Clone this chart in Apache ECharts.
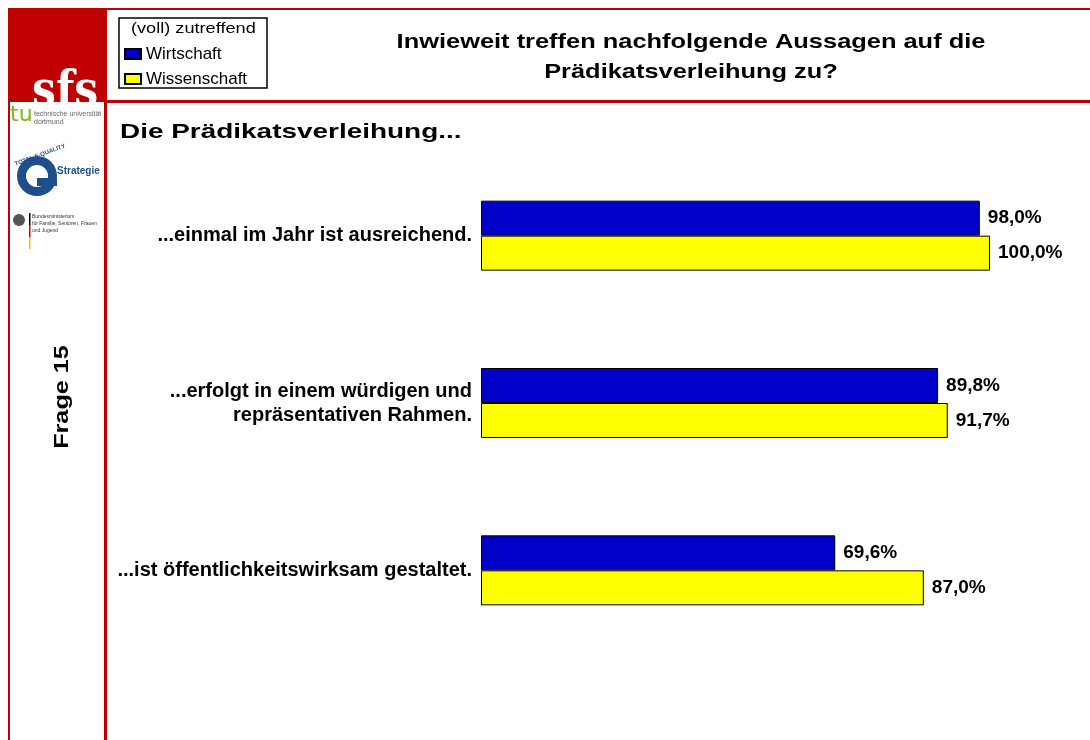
<!DOCTYPE html>
<html>
<head>
<meta charset="utf-8">
<script src="https://cdn.jsdelivr.net/npm/echarts@6/dist/echarts.min.js"></script>
<style>
  html, body { margin: 0; padding: 0; background: #fff; }
  #main { width: 1090px; height: 740px; }
</style>
</head>
<body>
<div id="main"></div>
<script>
// Daten
var categories = [
  '...einmal im Jahr ist ausreichend.',
  '...erfolgt in einem würdigen und\nrepräsentativen Rahmen.',
  '...ist öffentlichkeitswirksam gestaltet.'
];
var wirtschaft = [98.0, 89.8, 69.6];
var wissenschaft = [100.0, 91.7, 87.0];

var FONT = '"Liberation Sans", Arial, sans-serif';
var RED = '#c00000';

function pct(p) {
  return p.value.toFixed(1).replace('.', ',') + '%';
}

var chart = echarts.init(document.getElementById('main'));

chart.setOption({
  animation: false,
  textStyle: { fontFamily: FONT },
  grid: { left: 481, right: 100, top: 152, bottom: 86, containLabel: false },
  xAxis: { type: 'value', min: 0, max: 100, show: false },
  yAxis: {
    type: 'category',
    data: categories,
    inverse: true,
    axisLine: { show: false },
    axisTick: { show: false },
    axisLabel: {
      margin: 9,
      color: '#000',
      fontSize: 20,
      fontWeight: 'bold',
      fontFamily: FONT,
      align: 'right',
      lineHeight: 24
    }
  },
  legend: {
    orient: 'vertical',
    left: 119,
    top: 40,
    itemWidth: 16,
    itemHeight: 10,
    itemGap: 7,
    icon: 'rect',
    textStyle: { fontSize: 17, lineHeight: 18, color: '#000', fontFamily: FONT },
    data: ['Wirtschaft', 'Wissenschaft']
  },
  series: [
    {
      name: 'Wirtschaft',
      type: 'bar',
      data: wirtschaft,
      barWidth: 35,
      barGap: '0%',
      itemStyle: { color: '#0000c8', borderColor: '#000', borderWidth: 1 },
      label: { show: true, position: 'right', distance: 8, formatter: pct,
        color: '#000', fontSize: 19, fontWeight: 'bold', fontFamily: FONT }
    },
    {
      name: 'Wissenschaft',
      type: 'bar',
      data: wissenschaft,
      barWidth: 35,
      barGap: '0%',
      itemStyle: { color: '#ffff00', borderColor: '#000', borderWidth: 1 },
      label: { show: true, position: 'right', distance: 8, formatter: pct,
        color: '#000', fontSize: 19, fontWeight: 'bold', fontFamily: FONT }
    }
  ],
  graphic: [
    // Rahmen
    { type: 'rect', shape: { x: 8, y: 8, width: 1082, height: 2 }, style: { fill: RED } },
    { type: 'rect', shape: { x: 8, y: 8, width: 99, height: 94 }, style: { fill: RED } },
    { type: 'text', x: 32, y: 68, scaleX: 0.85, style: { text: 'sfs', fill: '#fff',
        font: 'bold 50px "DejaVu Serif", serif', verticalAlign: 'top' } },
    { type: 'rect', shape: { x: 10, y: 102, width: 94, height: 14 }, style: { fill: '#fff' } },
    { type: 'rect', shape: { x: 8, y: 100, width: 2, height: 640 }, style: { fill: RED } },
    { type: 'rect', shape: { x: 104, y: 100, width: 3, height: 640 }, style: { fill: RED } },
    { type: 'rect', shape: { x: 104, y: 100, width: 986, height: 3 }, style: { fill: RED } },

    // Logos
    { type: 'text', left: 10, top: 104, style: { text: 'tu', fill: '#84b818',
        font: '22px "DejaVu Sans", sans-serif' } },
    { type: 'text', left: 34, top: 110, style: { text: 'technische universität\ndortmund', fill: '#666',
        font: '7px "Liberation Sans", sans-serif', lineHeight: 8 } },
    { type: 'text', left: 14, top: 143, rotation: 0.35, style: { text: 'TOTAL E-QUALITY', fill: '#1f4e8c',
        font: 'bold 6px "Liberation Sans", sans-serif' } },
    { type: 'ring', shape: { cx: 37, cy: 176, r: 20, r0: 11 }, style: { fill: '#1f4e8c' } },
    { type: 'rect', shape: { x: 37, y: 178, width: 20, height: 8 }, style: { fill: '#1f4e8c' } },
    { type: 'text', left: 57, top: 166, style: { text: 'Strategie', fill: '#1f4e8c',
        font: 'bold 10px "Liberation Sans", sans-serif' } },
    { type: 'circle', shape: { cx: 19, cy: 220, r: 6 }, style: { fill: '#555' } },
    { type: 'rect', shape: { x: 29, y: 213, width: 1.5, height: 12 }, style: { fill: '#000' } },
    { type: 'rect', shape: { x: 29, y: 225, width: 1.5, height: 12 }, style: { fill: '#d00' } },
    { type: 'rect', shape: { x: 29, y: 237, width: 1.5, height: 12 }, style: { fill: '#f0c000' } },
    { type: 'text', left: 32, top: 213, style: {
        text: 'Bundesministerium\nfür Familie, Senioren, Frauen\nund Jugend', fill: '#333',
        font: '5px "Liberation Sans", sans-serif', lineHeight: 7 } },

    // Frage
    { type: 'text', x: 62, y: 397, rotation: Math.PI / 2, scaleX: 1.2, style: { text: 'Frage 15', fill: '#000',
        font: 'bold 21px "Liberation Sans", sans-serif', align: 'center', verticalAlign: 'middle' } },

    // Legende
    { type: 'rect', shape: { x: 119, y: 18, width: 148, height: 70 },
      style: { fill: 'none', stroke: '#000', lineWidth: 1.5 } },
    { type: 'text', x: 131, y: 21, scaleX: 1.21, style: { text: '(voll) zutreffend', fill: '#000',
        font: '15px "Liberation Sans", sans-serif' } },

    // Titel
    { type: 'text', x: 691, y: 57, scaleX: 1.21, style: {
        text: 'Inwieweit treffen nachfolgende Aussagen auf die\nPrädikatsverleihung zu?',
        fill: '#000', font: 'bold 21px "Liberation Sans", sans-serif', lineHeight: 30,
        align: 'center', verticalAlign: 'middle' } },
    { type: 'text', x: 120, y: 122, scaleX: 1.33, style: { text: 'Die Prädikatsverleihung...', fill: '#000',
        font: 'bold 21px "Liberation Sans", sans-serif' } }
  ]
});
</script>
</body>
</html>
